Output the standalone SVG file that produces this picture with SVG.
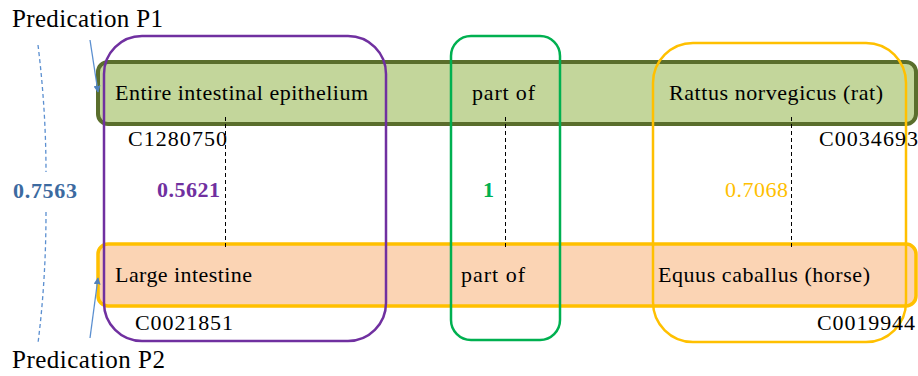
<svg xmlns="http://www.w3.org/2000/svg" width="918" height="376" viewBox="0 0 918 376">
<defs>
<style>
.t{font-family:"Liberation Serif","Times New Roman",serif;font-size:22px;fill:#000}
.big{font-size:25px}
.b{font-weight:bold}
.dash{stroke:#000;stroke-width:1;stroke-dasharray:4,3;fill:none}
.blue{stroke:#5b8fd0;stroke-width:1.3;fill:none}
</style>
<marker id="ah" viewBox="0 0 10 10" refX="9" refY="5" markerWidth="7" markerHeight="7" orient="auto" markerUnits="userSpaceOnUse">
<path d="M0,0 L10,5 L0,10 z" fill="#4f81bd"/>
</marker>
</defs>
<rect width="918" height="376" fill="#fff"/>
<g id="predication-p1">
<rect x="98" y="62" width="818" height="62" rx="10" fill="#c3d69b" stroke="#5a6e2c" stroke-width="4"/>
<text class="t" x="115" y="100" textLength="253">Entire intestinal  epithelium</text>
<text class="t" x="472" y="100" textLength="63">part of</text>
<text class="t" x="669" y="100" textLength="214">Rattus norvegicus (rat)</text>
</g>
<g id="predication-p2">
<rect x="98" y="244" width="818" height="62" rx="10" fill="#fbd4b4" stroke="#ffc000" stroke-width="3.5"/>
<text class="t" x="115" y="282" textLength="137">Large  intestine</text>
<text class="t" x="461" y="282" textLength="64">part of</text>
<text class="t" x="658" y="282" textLength="212">Equus caballus (horse)</text>
</g>
<g id="connectors">
<line class="dash" x1="225.5" y1="117" x2="225.5" y2="250"/>
<line class="dash" x1="505.5" y1="117" x2="505.5" y2="250"/>
<line class="dash" x1="791.5" y1="117" x2="791.5" y2="250"/>
<path class="blue" stroke-dasharray="4,3" d="M38,45 Q46,110 46,172"/>
<path class="blue" stroke-dasharray="4,3" d="M46,212 Q46,280 38,343"/>
<line class="blue" x1="90" y1="40" x2="98" y2="92" marker-end="url(#ah)"/>
<line class="blue" x1="90" y1="338" x2="98" y2="278" marker-end="url(#ah)"/>
</g>
<g id="group-subject">
<rect x="104" y="36" width="282" height="305" rx="38" fill="none" stroke="#7030a0" stroke-width="2.5"/>
<text class="t" x="128" y="146" textLength="99">C1280750</text>
<text class="t" x="135" y="330" textLength="98">C0021851</text>
<text class="t b" x="157" y="197" fill="#7030a0" style="fill:#7030a0" textLength="63">0.5621</text>
</g>
<g id="group-predicate">
<rect x="451" y="36" width="109" height="304" rx="20" fill="none" stroke="#00b050" stroke-width="2.5"/>
<text class="t b" x="483" y="197" style="fill:#00b050">1</text>
</g>
<g id="group-object">
<rect x="653" y="43" width="253" height="299" rx="40" fill="none" stroke="#ffc000" stroke-width="2.5"/>
<text class="t" x="725" y="197" style="fill:#ffc000" textLength="63">0.7068</text>
</g>
<g id="labels">
<text class="t" x="819" y="146" textLength="99">C0034693</text>
<text class="t" x="817" y="330" textLength="98">C0019944</text>
<text class="t b" x="13" y="198" style="fill:#3c6aa0" textLength="64">0.7563</text>
<text class="t big" x="12" y="27" textLength="151">Predication P1</text>
<text class="t big" x="12" y="368" textLength="153">Predication P2</text>
</g>
</svg>
